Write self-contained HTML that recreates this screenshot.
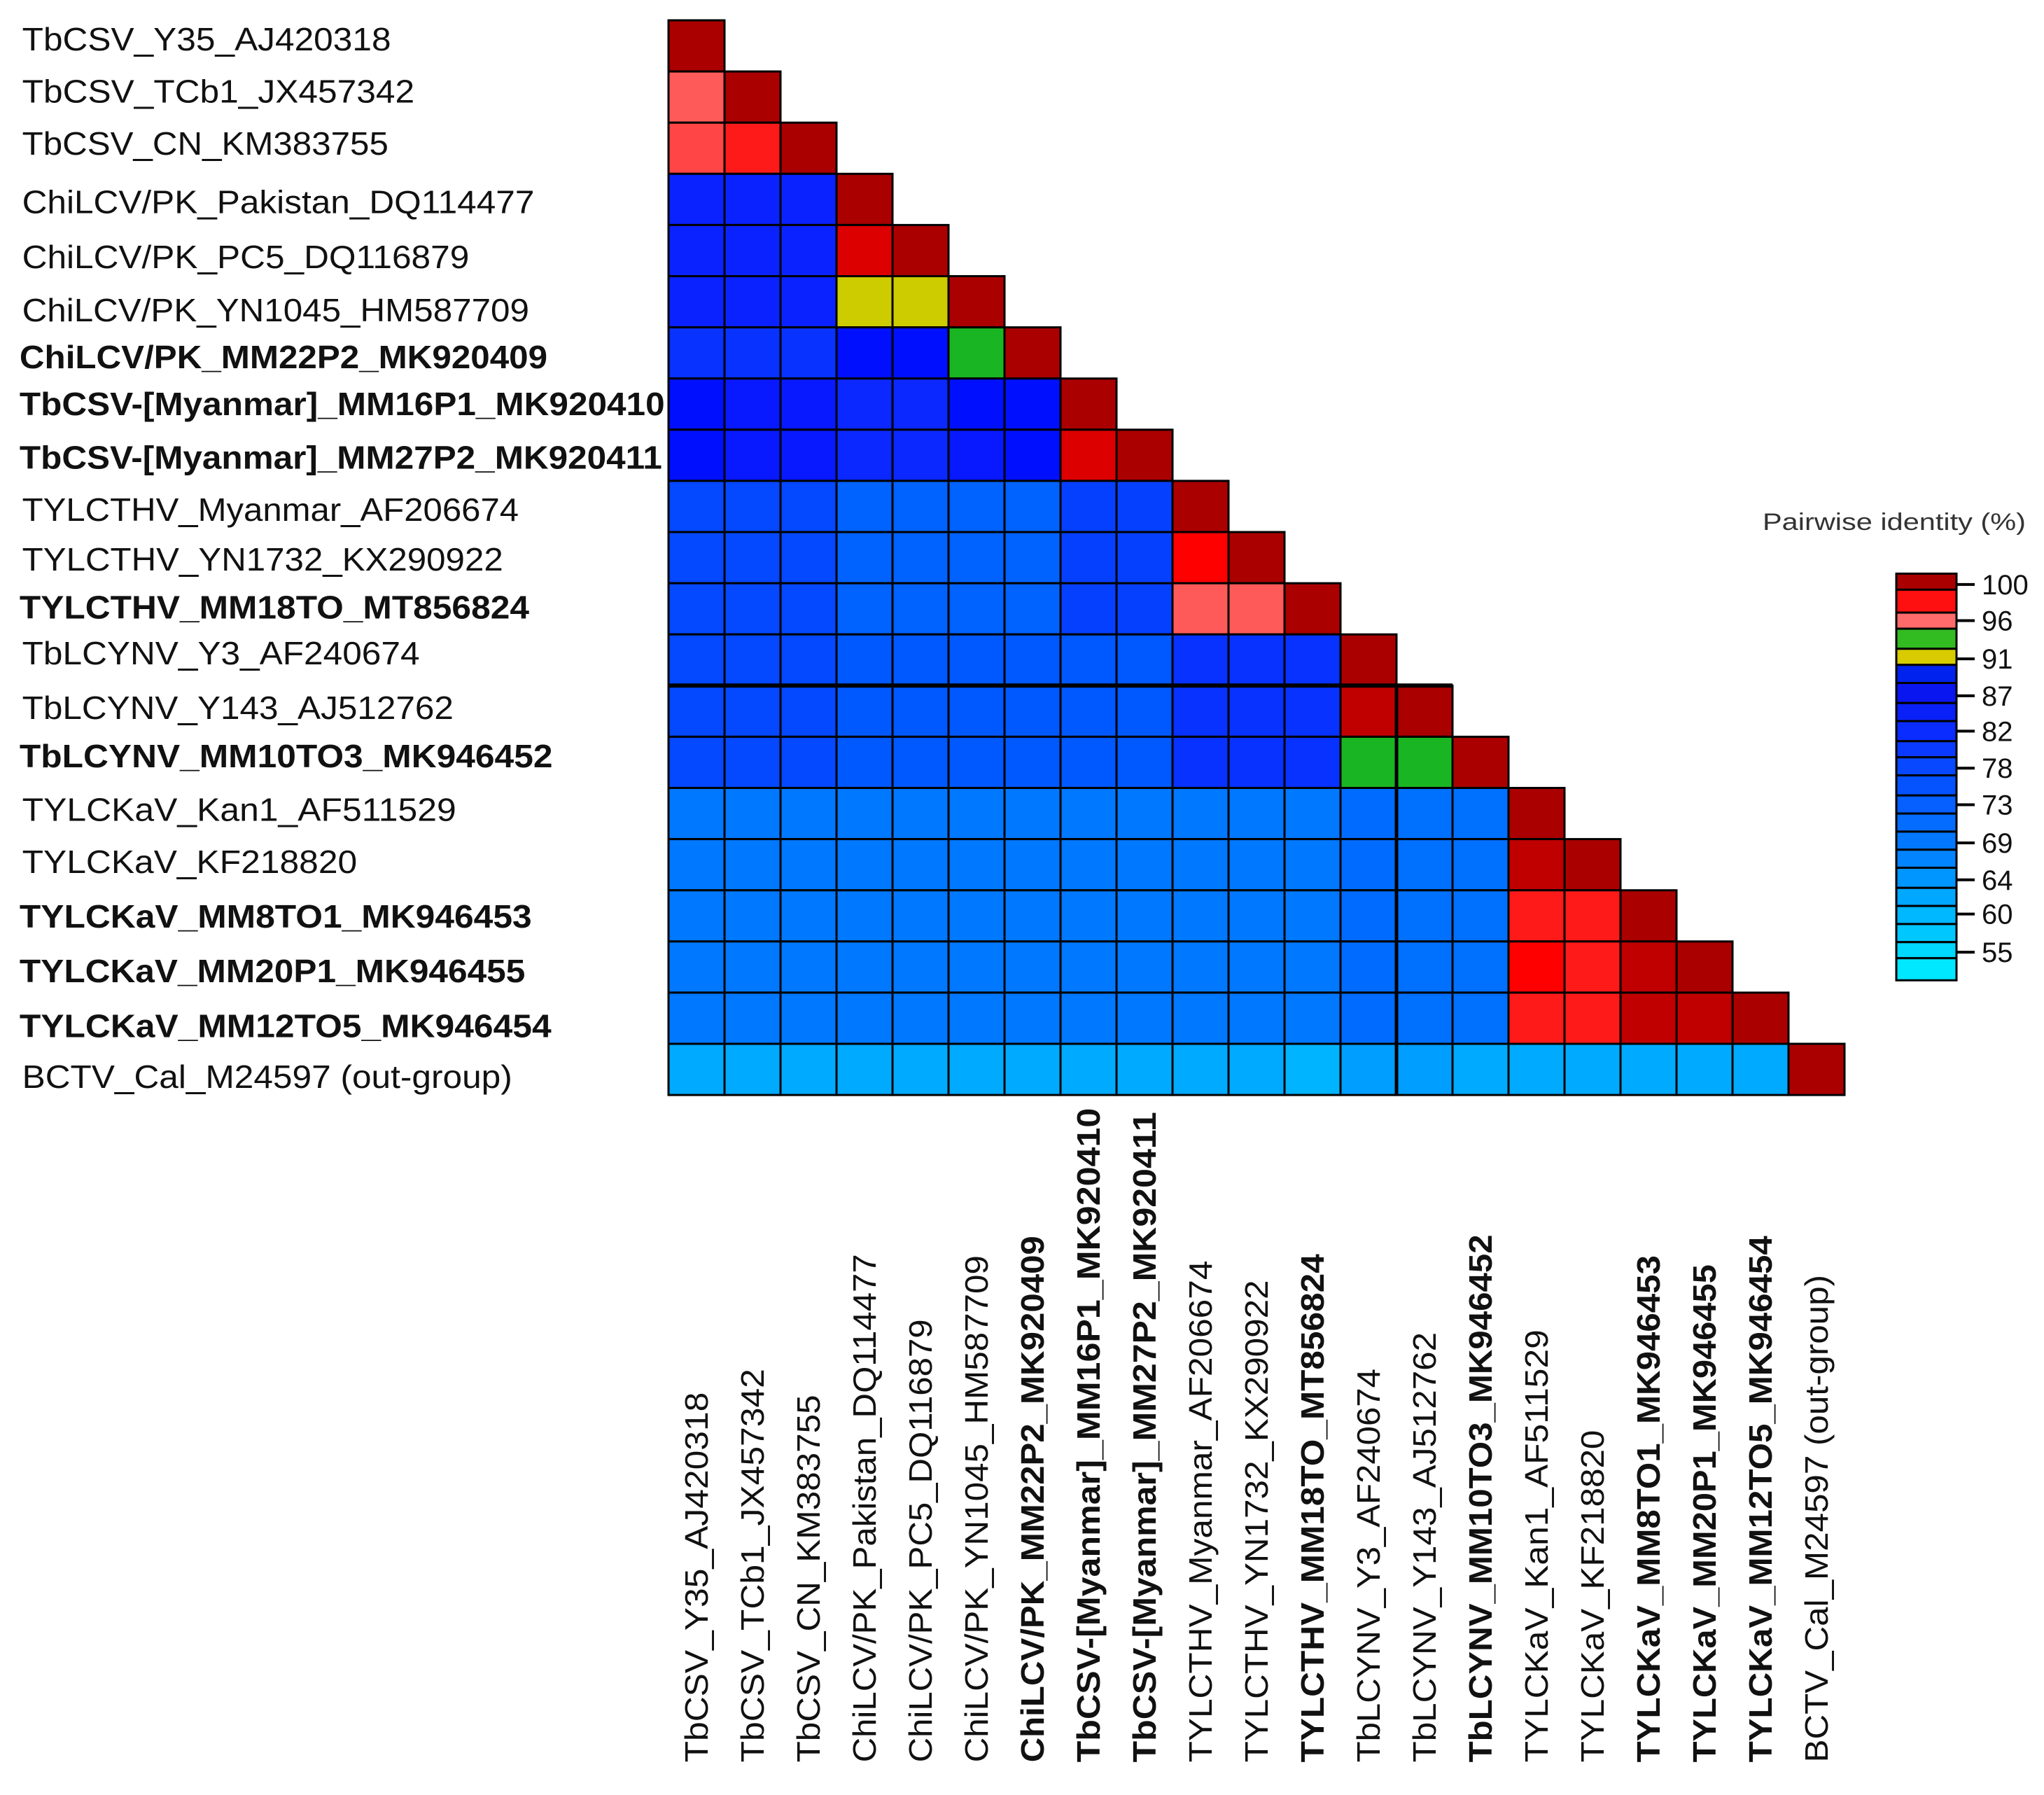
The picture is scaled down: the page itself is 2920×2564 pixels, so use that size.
<!DOCTYPE html>
<html><head><meta charset="utf-8"><style>
html,body{margin:0;padding:0;background:#fff;}
svg{display:block;}
text{font-family:"Liberation Sans",sans-serif;fill:#111;}
</style></head><body>
<svg id="chart" width="2920" height="2564" viewBox="0 0 2920 2564" xmlns="http://www.w3.org/2000/svg">
<g id="cells"></g>
<g id="rowlabels"></g>
<g id="collabels"></g>
<g id="legend">
<text x="2518" y="757" font-size="34" textLength="376" lengthAdjust="spacingAndGlyphs" style="fill:#333">Pairwise identity (%)</text>
</g>
</svg>
<script>
const labels = ["TbCSV_Y35_AJ420318","TbCSV_TCb1_JX457342","TbCSV_CN_KM383755","ChiLCV/PK_Pakistan_DQ114477","ChiLCV/PK_PC5_DQ116879","ChiLCV/PK_YN1045_HM587709","ChiLCV/PK_MM22P2_MK920409","TbCSV-[Myanmar]_MM16P1_MK920410","TbCSV-[Myanmar]_MM27P2_MK920411","TYLCTHV_Myanmar_AF206674","TYLCTHV_YN1732_KX290922","TYLCTHV_MM18TO_MT856824","TbLCYNV_Y3_AF240674","TbLCYNV_Y143_AJ512762","TbLCYNV_MM10TO3_MK946452","TYLCKaV_Kan1_AF511529","TYLCKaV_KF218820","TYLCKaV_MM8TO1_MK946453","TYLCKaV_MM20P1_MK946455","TYLCKaV_MM12TO5_MK946454","BCTV_Cal_M24597 (out-group)"];
const boldRows = [6,7,8,11,14,17,18,19];
const identity = [
[100],
[96,100],
[96.5,97.5,100],
[85,85,85,100],
[85,85,85,98.3,100],
[85,85,85,91.5,91.2,100],
[83,83,83,88,88,94,100],
[88,86,86,84,84,88,88,100],
[88,86,86,84,84,86,88,98.3,100],
[81,80.8,81,76,76,76,76,82,82,100],
[81,80.8,81,76,76,76,76,82,82,97.9,100],
[81,80.8,81,76,76,76,76,82,82,96,96,100],
[81,80.6,81,79,79,79,79,79,79,82.5,82.5,82.5,100],
[81,80.6,81,79,79,79,79,79,79,82.5,82.5,82.5,98.8,100],
[81,80.6,81,79,79,79,79,79,79,82.5,82.5,82.5,94,94,100],
[71,71,71,71,71,71,71,71,71,71,71,71,74,73,73,100],
[71,71,71,71,71,71,71,71,71,71,71,71,74,73,73,98.8,100],
[71,71,71,71,71,71,71,71,71,71,71,71,74,73,73,97.5,97.3,100],
[71,71,71,71,71,71,71,71,71,71,71,71,74,73,73,97.9,97.3,99,100],
[71,71,71,71,71,71,71,71,71,71,71,71,74,73,73,97.5,97.3,99,99,100],
[62,62,62,62,62,62,62,62,62,62,62,60,64,64,62,62,62,62,62,62,100]
];
const legendTicks = [100,96,91,87,82,78,73,69,64,60,55];
const legendColors = ["#AA0000","#FF1010","#FF6A6A","#33BB22","#D8CC00","#0022EE","#0A16F0","#0A20F8","#0A2CFF","#0A3AFF","#0848FF","#0552FF","#0560FF","#046CFF","#0378FF","#0284FF","#0096FF","#00A8FF","#00B8FF","#00C8FF","#00D8FF","#00E8FF"];

const NS="http://www.w3.org/2000/svg";
const X0=955, Y0=29, CW=80, RH=73.1;
const xPos=j=>X0+j*CW, yPos=i=>Y0+i*RH;
function color(v){
  const t=[[99.5,"#AA0000"],[98.7,"#C00000"],[98.2,"#DD0000"],[97.8,"#FF0000"],[97,"#FF1A1A"],[96.3,"#FF4545"],[95.5,"#FF5A5A"],[93,"#1AB522"],[91,"#CCCC00"],[87.5,"#0010FF"],[85.5,"#0818FF"],[84.5,"#0A22FF"],[83.5,"#0A28FF"],[82.5,"#0832FF"],[81.5,"#0640FF"],[80.5,"#0448FF"],[79.5,"#0350FF"],[78,"#0058FF"],[75,"#0062FF"],[73.5,"#006CFF"],[72.5,"#0070FF"],[70,"#0078FF"],[66,"#008CFF"],[63.5,"#009EFF"],[61,"#00AAFF"],[59,"#00B4FF"]];
  for(const [th,c] of t) if(v>=th) return c;
  return "#00E0FF";
}
function mk(tag,attrs,parent){const e=document.createElementNS(NS,tag);for(const k in attrs)e.setAttribute(k,attrs[k]);parent.appendChild(e);return e;}
const cells=document.getElementById('cells');
identity.forEach((row,i)=>row.forEach((v,j)=>{
  const r=mk('rect',{x:xPos(j),y:yPos(i),width:CW,height:RH,fill:color(v),stroke:'#000','stroke-width':3},cells);
  
  
}));
const sep1=mk('line',{x1:X0,x2:xPos(14),y1:yPos(13),y2:yPos(13),stroke:'#000','stroke-width':6},cells);


const sep2=mk('line',{x1:xPos(13),x2:xPos(13),y1:yPos(13),y2:yPos(21),stroke:'#000','stroke-width':5},cells);



const S=1.862;
const rowCy=[30,70,110,155,197,238,274,310,351,391,429,466,501,543,580,621,661,703,745,787,826];
const rowEnd=[300,318,298,410,360,406,420,510,508,398,386,406,322,348,424,350,274,408,403,423,393];
const colTop=[1068,1050,1070,962,1012,963,948,850,853,967,982,962,1050,1022,947,1020,1097,963,970,948,978];
const rl=document.getElementById('rowlabels'), cl=document.getElementById('collabels');
labels.forEach((lab,i)=>{
  const b=boldRows.includes(i);
  const x0=b?15:17;
  const t=mk('text',{x:x0*S,y:rowCy[i]*S+16,'font-size':46,'font-weight':b?'bold':'normal',textLength:(rowEnd[i]-x0)*S,lengthAdjust:'spacingAndGlyphs'},rl);
  t.textContent=lab;
  
  
  const cx=xPos(i)+CW/2+16, by=1352*S;
  const c=mk('text',{x:cx,y:by,transform:`rotate(-90 ${cx} ${by})`,'font-size':46,'font-weight':b?'bold':'normal',textLength:(1352-colTop[i])*S,lengthAdjust:'spacingAndGlyphs'},cl);
  c.textContent=lab;
  
  
});

const lg=document.getElementById('legend');
const bandB=[208,248,305,345,395,435,480,530,575,625,665,710,760,805,850,895,940,990,1035,1080,1125,1165,1220];
const tickU=[235,325,420,512,600,692,783,878,970,1055,1150];
const LX=2709, LW=86, ly=u=>700+u*0.574;
legendColors.forEach((c,k)=>{
  const r=mk('rect',{x:LX,y:ly(bandB[k]),width:LW,height:ly(bandB[k+1])-ly(bandB[k]),fill:c,stroke:'#000','stroke-width':3},lg);
  
  
});
legendTicks.forEach((v,k)=>{
  const y=ly(tickU[k]);
  const l=mk('line',{x1:LX+LW,x2:LX+LW+26,y1:y,y2:y,stroke:'#000','stroke-width':4},lg);
  
  
  const t=mk('text',{x:LX+LW+36,y:y+14,'font-size':40},lg);
  t.textContent=v;
  
  
});
</script>
</body></html>
